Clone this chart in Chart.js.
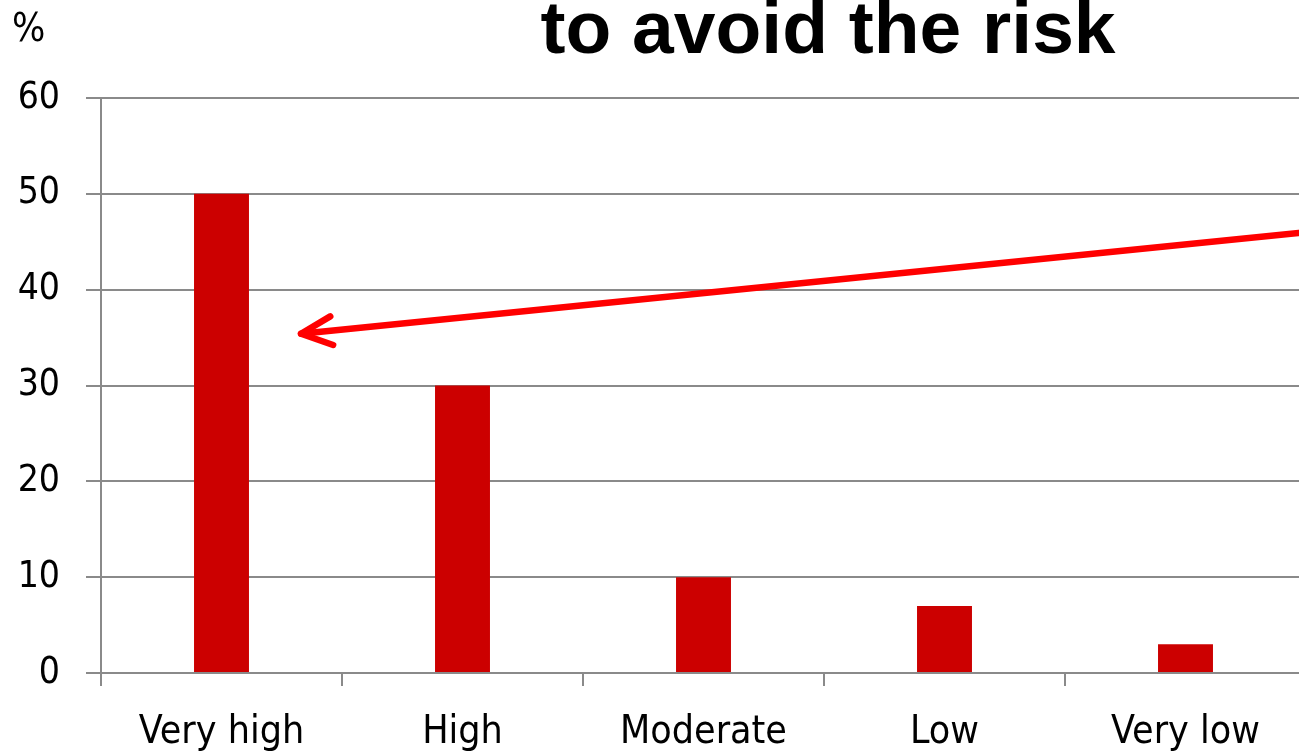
<!DOCTYPE html>
<html>
<head>
<meta charset="utf-8">
<script src="https://cdn.jsdelivr.net/npm/chart.js@4/dist/chart.umd.min.js"></script>
<style>
html,body{margin:0;padding:0;background:#fff;overflow:hidden;}
#wrap{width:1306px;height:751px;position:relative;}
</style>
</head>
<body>
<div id="wrap"><canvas id="c"></canvas></div>
<script>
const categories = ["Very high", "High", "Moderate", "Low", "Very low"];
const values = [50, 30, 10, 7, 3];
const titleText = "to avoid the risk";
const unitLabel = "%";
// arrow annotation in data coordinates: [categoryIndex, value]
const arrowFrom = [4.5, 46];
const arrowTo = [0.33, 35.4];

const GRID = "#8a8a8a";
const TICK_FONT = "'DejaVu Sans Condensed', 'DejaVu Sans', sans-serif";

const overlay = {
  id: "overlay",
  afterDraw(chart) {
    const ctx = chart.ctx;
    const xs = chart.scales.x, ys = chart.scales.y;
    ctx.save();
    // title
    ctx.fillStyle = "#000";
    ctx.font = "bold 75px 'Liberation Sans', Arial, sans-serif";
    ctx.textAlign = "center";
    ctx.textBaseline = "alphabetic";
    ctx.fillText(titleText, 828, 53);
    // unit
    ctx.font = "39px " + TICK_FONT;
    ctx.textAlign = "left";
    ctx.fillText(unitLabel, 12, 41);
    // arrow
    const x1 = xs.getPixelForValue(arrowFrom[0]), y1 = ys.getPixelForValue(arrowFrom[1]);
    const x2 = xs.getPixelForValue(arrowTo[0]), y2 = ys.getPixelForValue(arrowTo[1]);
    ctx.strokeStyle = "#ff0000";
    ctx.lineWidth = 6.5;
    ctx.lineCap = "round";
    ctx.lineJoin = "round";
    ctx.beginPath();
    ctx.moveTo(x1, y1);
    ctx.lineTo(x2, y2);
    ctx.stroke();
    const ang = Math.atan2(y1 - y2, x1 - x2);
    const L = 34, spread = 25 * Math.PI / 180;
    ctx.beginPath();
    ctx.moveTo(x2 + L * Math.cos(ang - spread), y2 + L * Math.sin(ang - spread));
    ctx.lineTo(x2, y2);
    ctx.lineTo(x2 + L * Math.cos(ang + spread), y2 + L * Math.sin(ang + spread));
    ctx.stroke();
    ctx.restore();
  }
};

new Chart(document.getElementById("c"), {
  type: "bar",
  data: {
    labels: categories,
    datasets: [{
      data: values,
      backgroundColor: "#cc0000",
      borderWidth: 0,
      barPercentage: 0.228,
      categoryPercentage: 1
    }]
  },
  options: {
    responsive: true,
    maintainAspectRatio: false,
    animation: false,
    layout: { padding: { top: 98, left: 0, right: 0, bottom: 0 } },
    plugins: { legend: { display: false }, tooltip: { enabled: false }, title: { display: false } },
    scales: {
      x: {
        offset: true,
        grid: { display: true, offset: true, drawOnChartArea: false, drawTicks: true, tickLength: 13, color: GRID, lineWidth: 2 },
        border: { display: true, color: GRID, width: 2 },
        ticks: { color: "#000", font: { family: TICK_FONT, size: 39 }, padding: 23, maxRotation: 0, autoSkip: false },
        afterFit(s) { s.height = 78; }
      },
      y: {
        min: 0, max: 60,
        grid: { color: GRID, lineWidth: 2, tickLength: 15, drawTicks: true },
        border: { display: true, color: GRID, width: 2 },
        ticks: { stepSize: 10, color: "#000", font: { family: TICK_FONT, size: 37 }, padding: 26 },
        afterFit(s) { s.width = 101; }
      }
    }
  },
  plugins: [overlay]
});
</script>
</body>
</html>
